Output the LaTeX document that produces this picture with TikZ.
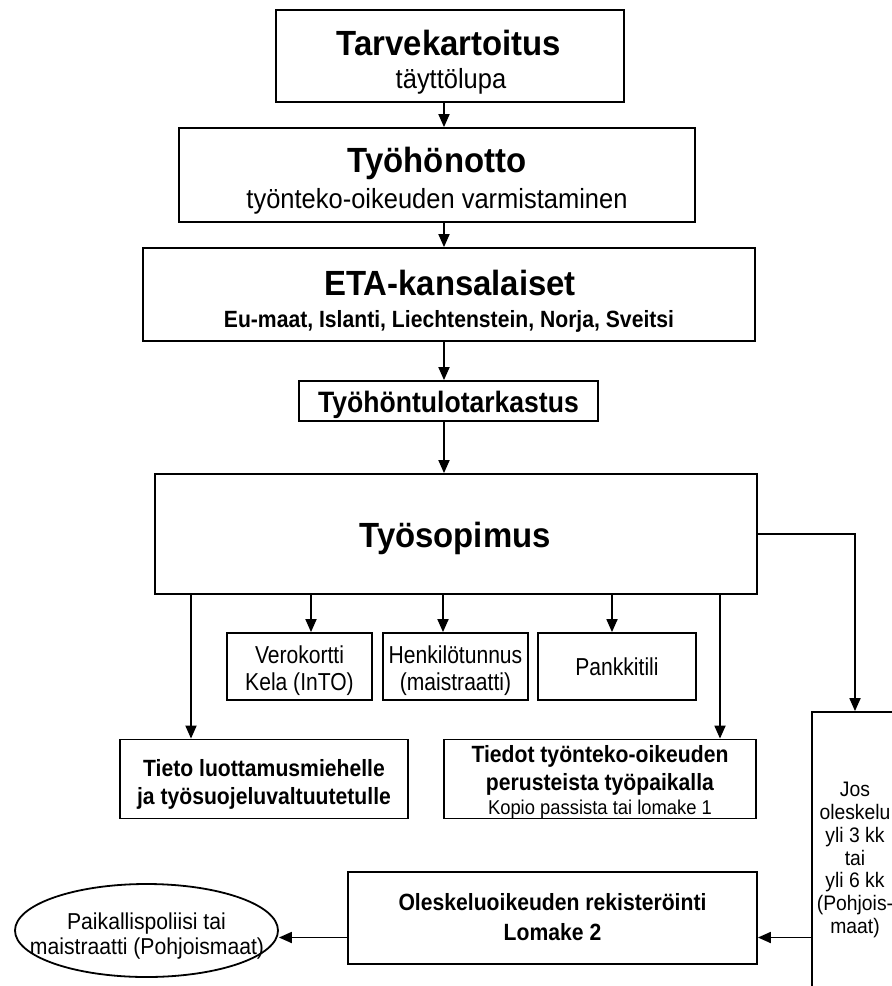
\documentclass[tikz,border=0pt]{standalone}
\usepackage{fontspec}
\setmainfont{Liberation Sans}
% slightly condensed faces of the same family
\newfontface\headface{Liberation Sans Bold}[FakeStretch=0.94]
\newfontface\boldface{Liberation Sans Bold}[FakeStretch=0.9]
\newfontface\textface{Liberation Sans}[FakeStretch=0.92]
\newfontface\tightface{Liberation Sans}[FakeStretch=0.86]
\usetikzlibrary{arrows.meta,shapes.geometric}

\tikzset{
  box/.style={draw, line width=1.8pt, rectangle, inner sep=0pt},
  oval/.style={draw, line width=1.8pt, ellipse, inner sep=0pt},
  conn/.style={line width=1.8pt, -{Triangle[length=13pt,width=11pt]}},
  txt/.style={inner sep=0pt, align=center, anchor=base},
  title/.style={txt, font=\headface\fontsize{35}{40}\selectfont},
  subtitle/.style={txt, font=\textface\fontsize{27.7}{32}\selectfont},
  mid/.style={txt, font=\boldface\fontsize{23.5}{28}\selectfont},
  plain/.style={txt, font=\textface\fontsize{23}{28}\selectfont},
  doc/.style={txt, font=\tightface\fontsize{24.5}{27}\selectfont},
}

\begin{document}
\begin{tikzpicture}[x=1pt, y=-1pt]
  \clip (0,0) rectangle (892,986);
  \fill[white] (0,0) rectangle (892,986);

  % column and row guides for the connectors
  \coordinate (axis) at (444,0);
  \coordinate (colA) at (191,0);
  \coordinate (colB) at (311,0);
  \coordinate (colC) at (443,0);
  \coordinate (colD) at (612,0);
  \coordinate (colE) at (720,0);
  \coordinate (rowR) at (0,937.5);

  % main chain
  \node[box, minimum width=348, minimum height=92] (tarve) at (450,56) {};
  \node[title] (tarveT) at (449,55) {Tarvekartoitus};
  \node[subtitle] (tarveS) at (451,88) {täyttölupa};

  \node[box, minimum width=516, minimum height=94] (otto) at (437,175) {};
  \node[title] (ottoT) at (437,172) {Työhönotto};
  \node[subtitle] (ottoS) at (437,208) {työnteko-oikeuden varmistaminen};

  \node[box, minimum width=612, minimum height=93] (eta) at (449,294.5) {};
  \node[title] (etaT) at (450,295) {ETA-kansalaiset};
  \node[mid] (etaS) at (449,327) {Eu-maat, Islanti, Liechtenstein, Norja, Sveitsi};

  \node[box, minimum width=299, minimum height=40] (tark) at (448.5,401) {};
  \node[txt, font=\boldface\fontsize{29.5}{32}\selectfont] (tarkT) at (448.5,412) {Työhöntulotarkastus};

  \node[box, minimum width=602, minimum height=120] (sopimus) at (456,534) {};
  \node[title] (sopimusT) at (455,547) {Työsopimus};

  % documents obtained after the contract
  \node[box, minimum width=145, minimum height=67] (vero) at (299.5,666.5) {};
  \node[doc] (veroT) at (299.5,663) {Verokortti};
  \node[doc] (veroU) at (299.5,690) {Kela (InTO)};

  \node[box, minimum width=145, minimum height=67] (henk) at (455.5,666.5) {};
  \node[doc] (henkT) at (455.5,663) {Henkilötunnus};
  \node[doc] (henkU) at (455.5,690) {(maistraatti)};

  \node[box, minimum width=158, minimum height=67] (pankki) at (617,666.5) {};
  \node[doc] (pankkiT) at (617,675) {Pankkitili};

  \node[box, minimum width=288, minimum height=79] (tieto) at (264,779) {};
  \node[mid] (tietoT) at (264,776) {Tieto luottamusmiehelle};
  \node[mid] (tietoU) at (264,804) {ja työsuojeluvaltuutetulle};

  \node[box, minimum width=312, minimum height=79] (tiedot) at (600,779) {};
  \node[mid] (tiedotT) at (600,762) {Tiedot työnteko-oikeuden};
  \node[mid] (tiedotU) at (600,790) {perusteista työpaikalla};
  \node[txt, font=\textface\fontsize{20}{22}\selectfont] (tiedotK) at (600,814) {Kopio passista tai lomake 1};

  % residence branch
  \node[box, minimum width=86, minimum height=298] (jos) at (855,861) {};
  \node[txt, anchor=center, font=\textface\fontsize{21}{22.8}\selectfont] (josT) at (855,860)
    {Jos\\oleskelu\\yli 3 kk\\tai\\yli 6 kk\\(Pohjois-\\maat)};

  \node[box, minimum width=409, minimum height=92] (olesk) at (552.5,918) {};
  \node[mid] (oleskT) at (552.5,910) {Oleskeluoikeuden rekisteröinti};
  \node[mid] (oleskU) at (552.5,940) {Lomake 2};

  \node[oval, minimum width=263, minimum height=93] (poliisi) at (146.5,930.5) {};
  \node[plain] (poliisiT) at (146.5,929) {Paikallispoliisi tai};
  \node[plain] (poliisiU) at (147,954) {maistraatti (Pohjoismaat)};

  % connectors
  \draw[conn] (tarve.south -| axis) -- (otto.north -| axis);
  \draw[conn] (otto.south -| axis) -- (eta.north -| axis);
  \draw[conn] (eta.south -| axis) -- (tark.north -| axis);
  \draw[conn] (tark.south -| axis) -- (sopimus.north -| axis);

  \draw[conn] (sopimus.south -| colA) -- (tieto.north -| colA);
  \draw[conn] (sopimus.south -| colB) -- (vero.north -| colB);
  \draw[conn] (sopimus.south -| colC) -- (henk.north -| colC);
  \draw[conn] (sopimus.south -| colD) -- (pankki.north -| colD);
  \draw[conn] (sopimus.south -| colE) -- (tiedot.north -| colE);

  \draw[conn] (sopimus.east) -| (jos.north);
  \draw[conn] (jos.west |- rowR) -- (olesk.east |- rowR);
  \draw[conn] (olesk.west |- rowR) -- (poliisi.east |- rowR);
\end{tikzpicture}
\end{document}
